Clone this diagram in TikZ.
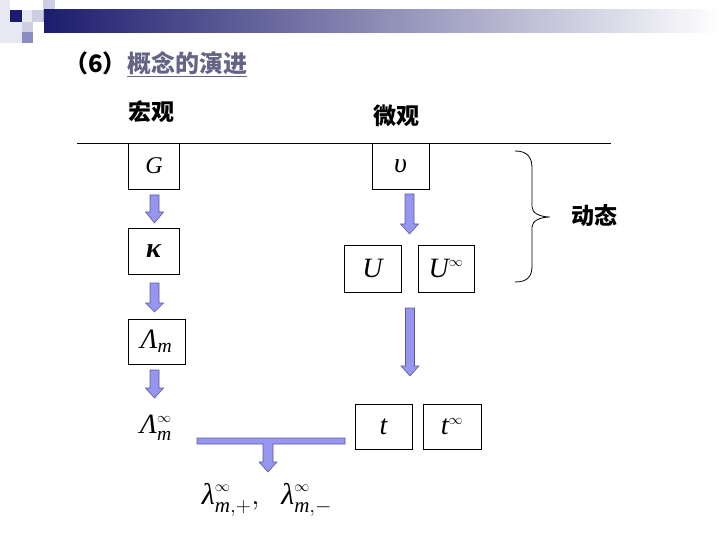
\RequirePackage{fix-cm}
\documentclass[tikz,border=0pt]{standalone}
\usepackage{amsmath}
\usepackage{fontspec}
\setmainfont{Liberation Serif}
\newfontfamily\cjk{Noto Sans CJK SC}
\newcommand\ti[1]{\text{\itshape #1}}
\newcommand\tbi[1]{\text{\bfseries\itshape #1}}
\newcommand\sinf{{\scriptscriptstyle\infty}}
\definecolor{navy}{RGB}{28,28,110}
\definecolor{barmid}{RGB}{160,160,192}
\definecolor{arrowfill}{RGB}{150,150,240}
\definecolor{arrowline}{RGB}{90,90,160}
\definecolor{titlec}{RGB}{100,100,135}
\definecolor{sqA}{RGB}{232,232,242}
\definecolor{sqB}{RGB}{205,205,228}
\definecolor{sqC}{RGB}{170,170,212}
\definecolor{sqD}{RGB}{140,140,195}
\newcommand\blkdown[4]{% x, ytop, ybottom, head length
  \filldraw[barrow] ({#1-4.5},#2) -- ({#1+4.5},#2) -- ({#1+4.5},{#3-#4}) -- ({#1+9},{#3-#4})
    -- (#1,#3) -- ({#1-9},{#3-#4}) -- ({#1-4.5},{#3-#4}) -- cycle;}
\begin{document}
\begin{tikzpicture}[x=1pt,y=-1pt,
  mbox/.style={draw, line width=0.8pt, inner sep=0pt, font=\fontsize{24}{28}\selectfont},
  mboxb/.style={mbox, font=\fontsize{28}{32}\selectfont},
  bigm/.style={inner sep=0pt, font=\fontsize{28}{32}\selectfont},
  cjkt/.style={inner sep=0pt, font=\cjk\bfseries\fontsize{23}{27}\selectfont},
  barrow/.style={fill=arrowfill, draw=arrowline, line width=0.6pt, line join=miter}]
\useasboundingbox (0,0) rectangle (720,540);
% header decoration
\fill[sqA] (0,0) rectangle (10,43);
\fill[sqA] (0,22) rectangle (33,43);
\fill[navy] (10,10) rectangle (22,22);
\fill[sqA] (22,10) rectangle (32,22);
\fill[sqB] (32,10) rectangle (43,22);
\fill[sqB] (43,0) rectangle (55,10);
\fill[sqC] (43,10) rectangle (55,22);
\fill[sqB] (22,22) rectangle (33,32);
\fill[sqD] (22,32) rectangle (33,43);
\shade[left color=navy, middle color=barmid, right color=white] (44,10) rectangle (720,33);
% title
\node[cjkt, font=\cjk\bfseries\fontsize{24}{28}\selectfont, anchor=west] (title) at (127,63) {\color{titlec}概念的演进};
\node[cjkt, font=\cjk\bfseries\fontsize{24}{28}\selectfont, anchor=east] (num) at (title.west) {（6）};
\draw[titlec, line width=0.8pt] ([yshift=-2pt]title.south west) -- ([yshift=-2pt]title.south east);
% headings
\node[cjkt] (macro) at (151.5,112) {宏观};
\node[cjkt] (micro) at (396.5,116) {微观};
\node[cjkt] (dyn) at (594.5,216) {动态};
\coordinate (lineL) at (77,143);
\coordinate (lineR) at (611,143);
\draw[line width=0.8pt] (lineL) -- (lineR);
% boxes
\node[mbox, minimum width=51pt, minimum height=46pt] (G) at (154,166) {$\ti{G}$};
\node[mboxb, minimum width=57pt, minimum height=46pt] (ups) at (400.5,166) {$\ti{υ}$};
\node[mboxb, minimum width=51pt, minimum height=46pt] (kap) at (153.5,251) {$\tbi{κ}$};
\node[mboxb, minimum width=57pt, minimum height=45pt] (Lm) at (156.5,341.5) {$\ti{Λ}_{\ti{m}}$\hspace{14pt}};
\node[mboxb, minimum width=57pt, minimum height=47pt] (U) at (372.5,268.5) {$\ti{U}$};
\node[mboxb, minimum width=56pt, minimum height=47pt] (Uinf) at (446,268.5) {$\ti{U}^{\sinf}$};
\node[mboxb, minimum width=57pt, minimum height=45pt] (t) at (383.5,426.5) {$\ti{t}$};
\node[mboxb, minimum width=58pt, minimum height=45pt] (tinf) at (452,426.5) {$\ti{t}^{\sinf}$};
\node[bigm] (Lminf) at (156,428) {$\ti{Λ}_{\ti{m}}^{\sinf}$};
\node[bigm, font=\fontsize{30}{34}\selectfont] (lam) at (267,500) {$\ti{λ}_{\ti{m},+}^{\sinf},\;\;\ti{λ}_{\ti{m},-}^{\sinf}$};
% block arrows
\blkdown{154.5}{195}{223}{11}
\blkdown{154.5}{283}{312}{9}
\blkdown{154.5}{370}{398}{10}
\blkdown{409.5}{194}{234}{10}
\blkdown{410}{308}{376}{10}
\filldraw[barrow] (197,438) -- (345,438) -- (345,444) -- (273,444) -- (273,462) -- (277,462)
  -- (268,472) -- (259,462) -- (263,462) -- (263,444) -- (197,444) -- cycle;
% brace
\draw[line width=0.8pt] (515,151) .. controls (528,151) and (532,158) .. (532,168) -- (532,207)
  .. controls (532,213) and (540,217) .. (550,217)
  .. controls (540,217) and (532,221) .. (532,227) -- (532,266)
  .. controls (532,276) and (528,282) .. (515,282);
\end{tikzpicture}
\end{document}
